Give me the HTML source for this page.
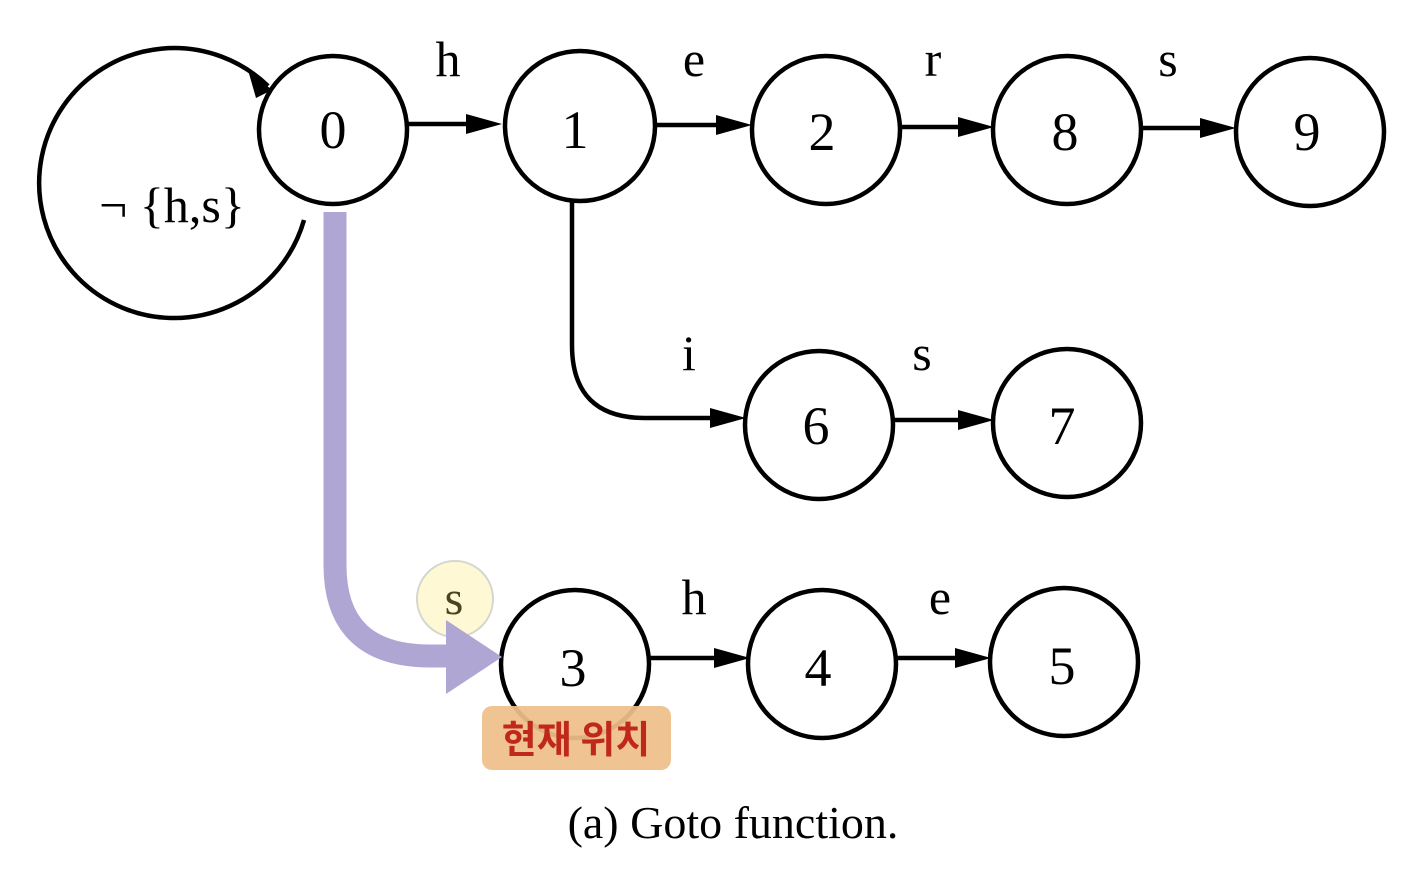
<!DOCTYPE html>
<html><head><meta charset="utf-8"><style>
html,body{margin:0;padding:0;background:#fff;}
svg{display:block}
</style></head><body>
<svg width="1414" height="890" viewBox="0 0 1414 890" xmlns="http://www.w3.org/2000/svg">
<defs>
<marker id="ah" markerWidth="10" markerHeight="8" refX="9" refY="4" orient="auto" markerUnits="userSpaceOnUse" viewBox="0 0 10 8">
</marker>
</defs>
<g fill="none" stroke="#000" stroke-width="4.5">
<!-- self loop -->
<path d="M 304 220 A 135 135 0 1 1 268 86"/>
<circle cx="333" cy="130" r="74" fill="#fff"/>
<circle cx="580" cy="126" r="75"/>
<circle cx="826" cy="130" r="74"/>
<circle cx="1067" cy="130" r="74"/>
<circle cx="1310" cy="132" r="74"/>
<circle cx="819" cy="425" r="74"/>
<circle cx="1067" cy="423" r="74"/>
<circle cx="575" cy="664" r="74"/>
<circle cx="822" cy="664" r="74"/>
<circle cx="1064" cy="662" r="74"/>
<!-- edges -->
<line x1="408" y1="124" x2="480" y2="124"/>
<line x1="655" y1="125" x2="730" y2="125"/>
<line x1="900" y1="127" x2="972" y2="127"/>
<line x1="1141" y1="128" x2="1215" y2="128"/>
<path d="M 572 202 L 572 345 Q 572 418 645 418 L 725 418"/>
<line x1="893" y1="420" x2="973" y2="420"/>
<line x1="649" y1="658" x2="728" y2="658"/>
<line x1="896" y1="658" x2="970" y2="658"/>
</g>
<g fill="#000">
<polygon points="466,114 502,124 466,134"/>
<polygon points="716,115 752,125 716,135"/>
<polygon points="958,117 994,127 958,137"/>
<polygon points="1200,118 1236,128 1200,138"/>
<polygon points="710,408 746,418 710,428"/>
<polygon points="958,410 994,420 958,430"/>
<polygon points="714,648 750,658 714,668"/>
<polygon points="955,648 991,658 955,668"/>
<polygon points="248,70 272,90 256,98"/>
</g>
<g font-family="'Liberation Serif', serif" fill="#000" text-anchor="middle">
<g font-size="54">
<text x="333" y="148">0</text>
<text x="575" y="148">1</text>
<text x="822" y="150">2</text>
<text x="1065" y="150">8</text>
<text x="1307" y="150">9</text>
<text x="816" y="444">6</text>
<text x="1062" y="444">7</text>
<text x="573" y="686">3</text>
<text x="818" y="686">4</text>
<text x="1062" y="684">5</text>
</g>
<g font-size="50">
<text x="448" y="76">h</text>
<text x="694" y="76">e</text>
<text x="933" y="76">r</text>
<text x="1168" y="76">s</text>
<text x="689" y="370">i</text>
<text x="922" y="370">s</text>
<text x="694" y="614">h</text>
<text x="940" y="614">e</text>
<text x="172" y="222">¬ {h,s}</text>
</g>
<text x="733" y="838" font-size="46">(a)  Goto function.</text>
</g>
<!-- overlays -->
<circle cx="455" cy="599" r="38" fill="#FEF9D4" stroke="#d6d6d0" stroke-width="2"/>
<text x="454" y="614" font-family="'Liberation Serif', serif" font-size="48" fill="#4a4520" text-anchor="middle">s</text>
<path d="M 335 212 L 335 565 Q 335 656 430 656 L 455 656" fill="none" stroke="#B0A6D4" stroke-width="23"/>
<polygon points="446,620 502,657 446,694" fill="#B0A6D4"/>
<rect x="482" y="706" width="189" height="64" rx="10" fill="#EFC08A" opacity="0.93"/>
<text x="576" y="753" font-family="'Noto Sans CJK KR', 'NanumGothic', sans-serif" font-weight="bold" font-size="38" fill="#C0281A" text-anchor="middle">현재 위치</text>
</svg>
</body></html>
